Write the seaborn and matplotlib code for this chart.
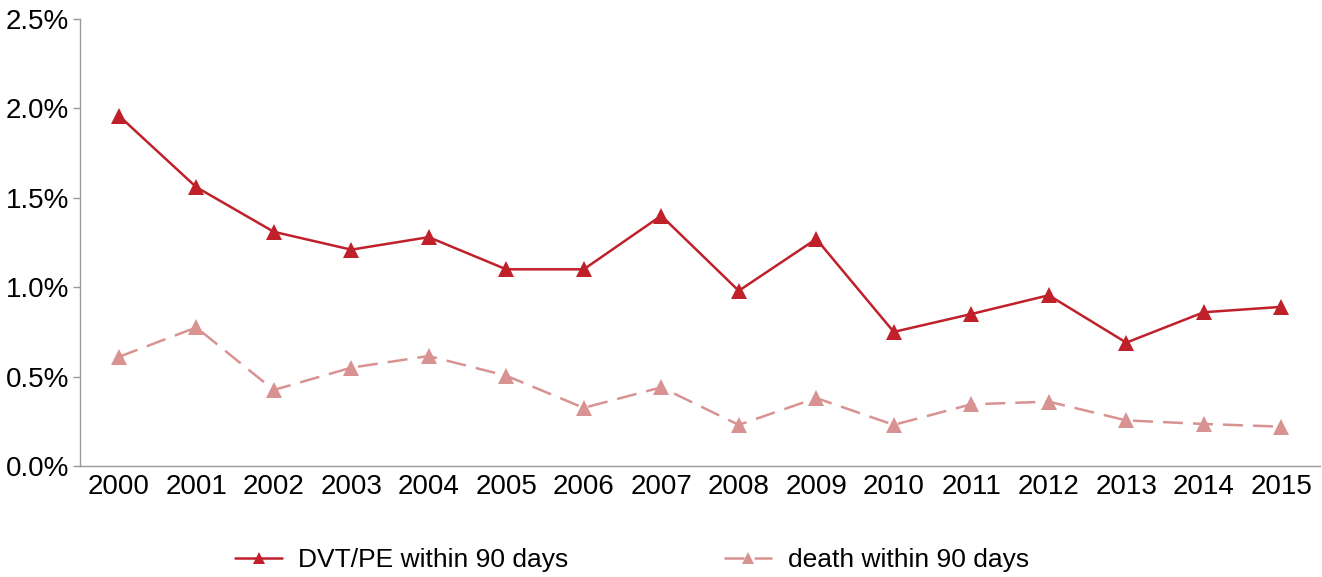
import matplotlib
matplotlib.use('Agg')
import matplotlib.pyplot as plt
import matplotlib.ticker as mticker
import seaborn as sns
import pandas as pd

years = list(range(2000, 2016))
dvt_pe = [1.96, 1.56, 1.31, 1.21, 1.28, 1.10, 1.10, 1.40, 0.98, 1.27,
          0.75, 0.85, 0.955, 0.69, 0.86, 0.89]
death = [0.61, 0.775, 0.425, 0.55, 0.615, 0.505, 0.325, 0.44, 0.23, 0.38,
         0.23, 0.345, 0.36, 0.255, 0.235, 0.22]
series_names = ['DVT/PE within 90 days', 'death within 90 days']

sns.set_style('white')
plt.rcParams['font.family'] = ['Liberation Sans', 'DejaVu Sans']
plt.rcParams['text.color'] = 'black'
plt.rcParams['xtick.labelcolor'] = 'black'
plt.rcParams['ytick.labelcolor'] = 'black'

df = pd.DataFrame({'year': years * 2,
                   'rate': dvt_pe + death,
                   'series': [series_names[0]] * len(years) + [series_names[1]] * len(years)})

fig = plt.figure(figsize=(13.22, 5.77), dpi=100)
ax = fig.add_axes([0.0605, 0.1924, 0.938, 0.7746])

sns.lineplot(data=df, x='year', y='rate', hue='series', style='series',
             palette={series_names[0]: '#C0202A', series_names[1]: '#D99292'},
             dashes={series_names[0]: '', series_names[1]: (8, 4)},
             markers={series_names[0]: '^', series_names[1]: '^'},
             markersize=11, markeredgewidth=0, linewidth=1.8, ax=ax)

ax.set_xlim(1999.5, 2015.5)
ax.set_ylim(0, 2.5)
ax.set_xticks(years)
ax.set_xticklabels([str(y) for y in years])
ax.set_xticks([y - 0.5 for y in years] + [2015.5], minor=True)
ax.tick_params(axis='x', which='major', length=0, labelsize=20, pad=6)
ax.tick_params(axis='x', which='minor', length=5, color='#999999', width=1)
ax.yaxis.set_major_locator(mticker.MultipleLocator(0.5))
ax.yaxis.set_major_formatter(mticker.FuncFormatter(lambda v, p: f'{v:.1f}%'))
ax.tick_params(axis='y', length=5, color='#999999', width=1, labelsize=20, left=True, pad=3)
ax.set_xlabel('')
ax.set_ylabel('')

for s in ['top', 'right']:
    ax.spines[s].set_visible(False)
for s in ['left', 'bottom']:
    ax.spines[s].set_color('#999999')
    ax.spines[s].set_linewidth(1)

handles, labels = ax.get_legend_handles_labels()
for h in handles:
    h.set_markersize(8)
ax.legend(handles, labels, loc='center', bbox_to_anchor=(0.445, -0.21),
          ncol=2, frameon=False, fontsize=19, columnspacing=5.9,
          handlelength=1.8, handletextpad=0.6)

fig.savefig('out.png', dpi=100)
